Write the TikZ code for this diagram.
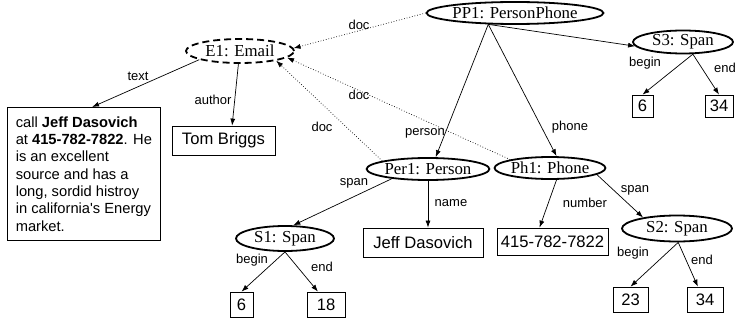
\documentclass[tikz,border=0pt]{standalone}
\usepackage{fontspec}
\setmainfont{Liberation Serif}
\newfontfamily\arialf{Liberation Sans}
\usetikzlibrary{arrows.meta,shapes.geometric,calc}
\begin{document}
\begin{tikzpicture}[x=1pt,y=-1pt,
  ent/.style={ellipse,draw,line width=1.8pt,inner sep=0pt,font=\fontsize{16.8}{18}\selectfont},
  vbox/.style={rectangle,draw,line width=0.8pt,inner sep=0pt,font=\arialf\fontsize{16.6}{19}\selectfont},
  lab/.style={font=\arialf\fontsize{13}{15}\selectfont,inner sep=0pt},
  arr/.style={-{Latex[length=7pt,width=5pt]},line width=0.7pt},
  darr/.style={arr,dotted,line width=0.7pt}]
\useasboundingbox (0,0) rectangle (735,321);

% entity ellipses
\node[ent,minimum width=155,minimum height=22] (PP1) at (515,13) {PP1: PersonPhone};
\node[ent,dash pattern=on 7pt off 4pt,minimum width=108,minimum height=24] (E1) at (240,51) {E1: Email};
\node[ent,minimum width=100,minimum height=23] (S3) at (683,42) {S3: Span};
\node[ent,minimum width=110,minimum height=22] (Per1) at (428,169) {Per1: Person};
\node[ent,minimum width=98,minimum height=22] (Ph1) at (550,168) {Ph1: Phone};
\node[ent,minimum width=110,minimum height=26] (S2) at (677,228.5) {S2: Span};
\node[ent,minimum width=98,minimum height=25] (S1) at (285,238.5) {S1: Span};

% value boxes
\node[vbox,font=\arialf\fontsize{14.7}{17.3}\selectfont,align=left,minimum width=153,minimum height=133,anchor=north west] (txt) at (7,107)
  {call \textbf{Jeff Dasovich}\\at \textbf{415-782-7822}. He\\is an excellent\\source and has a\\long, sordid histroy\\in california's Energy\\market.};
\node[vbox,minimum width=103,minimum height=29] (tom) at (223.5,140.5) {Tom Briggs};
\node[vbox,minimum width=21,minimum height=22] (b6a) at (642.5,106) {6};
\node[vbox,minimum width=28,minimum height=22] (b34a) at (719,106) {34};
\node[vbox,minimum width=120,minimum height=29] (jeff) at (423,242.5) {Jeff Dasovich};
\node[vbox,minimum width=111,minimum height=27] (num) at (552.5,241.5) {415-782-7822};
\node[vbox,minimum width=35,minimum height=25] (b23) at (630.5,299.5) {23};
\node[vbox,minimum width=36,minimum height=25] (b34b) at (705,299.5) {34};
\node[vbox,minimum width=23,minimum height=25] (b6b) at (241.5,304.5) {6};
\node[vbox,minimum width=38,minimum height=25] (b18) at (326,304.5) {18};

% connectors
\draw[darr] (PP1.west) -- (E1.3);
\draw[darr] (Ph1.north west) -- (E1.-8);
\draw[darr] (Per1.170) -- (E1.-15);
\draw[arr] (E1.-168) -- (txt.83);
\draw[arr] (E1.-97) -- (tom.60);
\draw[arr] (PP1.-157) -- (Per1.57);
\draw[arr] (PP1.-157) -- (Ph1.61);
\draw[arr] (PP1.-157) -- (S3.185);
\draw[arr] (S3.-51) -- (b6a.north);
\draw[arr] (S3.-51) -- (b34a.north);
\draw[arr] (Per1.-165) -- (S1.58);
\draw[arr] (Per1.south) -- (Per1.south |- jeff.north);
\draw[arr] (Ph1.-61) -- (num.133);
\draw[arr] (Ph1.-8) -- (S2.162);
\draw[arr] (S2.-85) -- (b23.north);
\draw[arr] (S2.-85) -- (b34b.119);
\draw[arr] (S1.south) -- (b6b.north);
\draw[arr] (S1.south) -- (b18.122);

% labels
\node[lab] (l1) at (359,25) {doc};
\node[lab] (l2) at (359,95) {doc};
\node[lab] (l3) at (322,127) {doc};
\node[lab] (l4) at (138,76) {text};
\node[lab] (l5) at (213,100) {author};
\node[lab] (l6) at (425,133) {person};
\node[lab] (l7) at (570,127) {phone};
\node[lab] (l8) at (645,63) {begin};
\node[lab] (l9) at (725,68) {end};
\node[lab] (l10) at (354,183) {span};
\node[lab] (l11) at (451,203) {name};
\node[lab] (l12) at (585,203) {number};
\node[lab] (l13) at (635,190) {span};
\node[lab] (l14) at (633,253) {begin};
\node[lab] (l15) at (702,260) {end};
\node[lab] (l16) at (252,260) {begin};
\node[lab] (l17) at (322,267) {end};
\end{tikzpicture}
\end{document}
